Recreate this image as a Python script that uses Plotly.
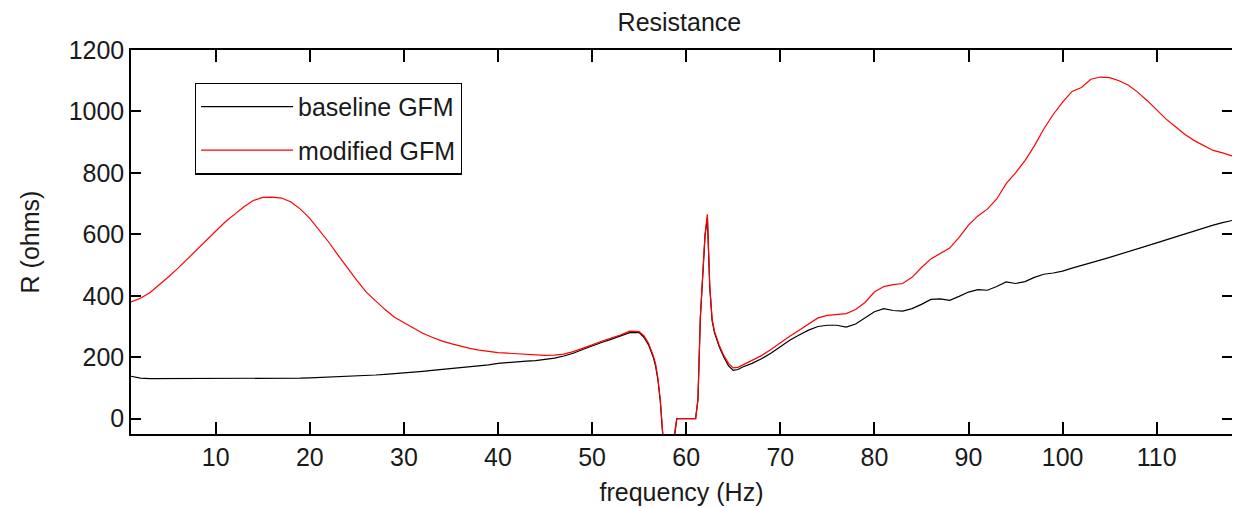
import plotly.graph_objects as go

freq_hz = [1, 2, 3, 4, 5, 6, 7, 8, 9, 10, 11, 12, 13, 14, 15, 16, 17, 18, 19, 20,
           21, 22, 23, 24, 25, 26, 27, 28, 29, 30, 31, 32, 33, 34, 35, 36, 37, 38, 39, 40,
           41, 42, 43, 44, 45, 46, 47, 48, 49, 50, 51, 52, 53, 54, 55,
           55.5, 56, 56.5, 56.75, 57, 57.25, 57.5, 57.75, 58, 58.25, 58.5, 58.75,
           59, 59.5, 60, 60.5, 61, 61.25, 61.5, 61.75, 62, 62.25, 62.5, 62.75,
           63, 63.5, 64, 64.5, 65, 65.5, 66,
           67, 68, 69, 70, 71, 72, 73, 74, 75, 76, 77, 78, 79, 80,
           81, 82, 83, 84, 85, 86, 87, 88, 89, 90, 91, 92, 93, 94, 95, 96, 97, 98, 99, 100,
           101, 102, 103, 104, 105, 106, 107, 108, 109, 110, 111, 112, 113, 114, 115, 116, 117, 118]

baseline_gfm = [138, 132, 130, 130, 130, 130, 130, 130, 130, 130, 130, 130, 130, 130, 130, 130, 130, 131, 132, 133,
                134, 135, 136, 137, 138, 140, 142, 144, 146, 148, 151, 154, 157, 160, 163, 166, 168, 171, 175, 180,
                183, 185, 187, 189, 192, 197, 204, 213, 225, 237, 248, 258, 268, 280, 280,
                265, 240, 200, 170, 125, 55, -50, -250, -300, -300, -250, -60,
                0, 0, 0, 0, 0, 62, 325, 460, 595, 655, 430, 320,
                280, 235, 200, 172, 157, 160, 168,
                180, 195, 213, 235, 255, 272, 288, 300, 304, 304, 298, 308, 328, 348,
                358, 352, 350, 358, 372, 388, 390, 385, 398, 412, 420, 418, 430, 445, 440, 446, 460, 470, 474, 480,
                490, 498, 507, 516, 525, 534, 543, 552, 562, 572, 582, 592, 602, 612, 622, 630, 638, 645]

modified_gfm = [380, 392, 410, 435, 462, 490, 520, 552, 582, 610, 640, 665, 690, 710, 720, 721, 718, 705, 682, 652,
                615, 575, 532, 490, 450, 412, 382, 355, 330, 312, 295, 278, 265, 253, 244, 236, 229, 223, 218, 215,
                213, 211, 209, 208, 206, 207, 210, 218, 228, 240, 252, 262, 272, 285, 283,
                270, 245, 205, 178, 130, 60, -45, -200, -250, -250, -200, -50,
                0, 0, 0, 0, 0, 65, 330, 465, 600, 665, 435, 325,
                285, 240, 205, 180, 165, 167, 175,
                190, 205, 225, 248, 268, 288, 308, 328, 336, 338, 342, 355, 378, 412,
                430, 436, 440, 460, 492, 520, 537, 555, 590, 630, 660, 682, 715, 765, 800, 840, 888, 943, 990, 1030,
                1065, 1078, 1105, 1112, 1110, 1100, 1085, 1062, 1035, 1005, 975, 950, 925, 905, 890, 873, 865, 855]

x_ticks = [10, 20, 30, 40, 50, 60, 70, 80, 90, 100, 110]
y_ticks = [0, 200, 400, 600, 800, 1000, 1200]

FONT = "Liberation Sans, Arial, sans-serif"
FS = 25
TXT = "#1a1a1a"

fig = go.Figure()
fig.add_trace(go.Scatter(x=freq_hz, y=baseline_gfm, mode="lines", name="baseline GFM",
                         legendgroup="a", line=dict(color="black", width=1.2)))
fig.add_trace(go.Scatter(x=freq_hz, y=modified_gfm, mode="lines", name="modified GFM",
                         legendgroup="b", line=dict(color="#ff0000", width=1.2)))

axis_common = dict(showline=True, linecolor="black", linewidth=1.5, mirror="ticks",
                   ticks="inside", tickcolor="black", tickwidth=1.5,
                   showgrid=False, zeroline=False,
                   tickfont=dict(family=FONT, size=FS, color=TXT))

# the page body adds an 8px offset, so the figure is 8px smaller on each axis
fig.update_layout(
    width=1232, height=500,
    margin=dict(l=123, r=6, t=42, b=67),
    paper_bgcolor="white", plot_bgcolor="white",
    title=dict(text="Resistance", x=0.545, xanchor="center", y=0.972, yanchor="middle",
               font=dict(family=FONT, size=FS, color=TXT)),
    xaxis=dict(range=[1, 118], tickvals=x_ticks, ticklen=12,
               title=dict(text="frequency (Hz)", standoff=14,
                          font=dict(family=FONT, size=FS, color=TXT)),
               **axis_common),
    yaxis=dict(range=[-50, 1200], tickvals=y_ticks, ticklen=10,
               title=dict(text="R (ohms)", standoff=22,
                          font=dict(family=FONT, size=FS, color=TXT)),
               **axis_common),
    legend=dict(x=0.058, y=0.915, xanchor="left", yanchor="top",
                bordercolor="black", borderwidth=1.2, bgcolor="white",
                font=dict(family=FONT, size=FS, color=TXT),
                traceorder="grouped", tracegroupgap=8, itemwidth=92),
    showlegend=True,
)

fig.write_html("out.html")
